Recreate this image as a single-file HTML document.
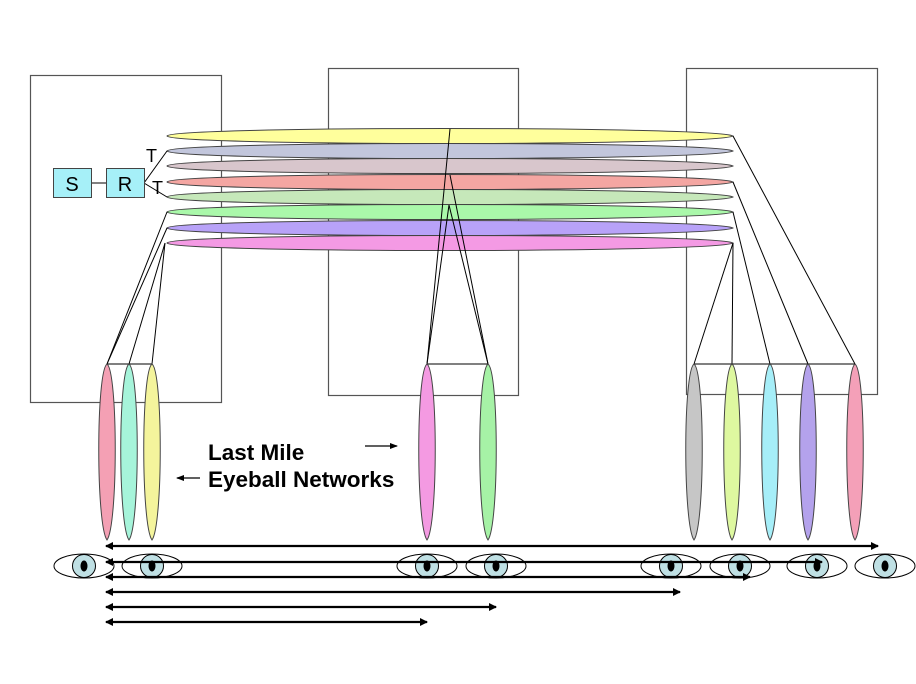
<!DOCTYPE html>
<html><head><meta charset="utf-8"><style>body{margin:0;background:#fff}svg{display:block}</style></head><body>
<svg width="916" height="684" viewBox="0 0 916 684" xmlns="http://www.w3.org/2000/svg" font-family="Liberation Sans, sans-serif">
<defs>
<marker id="a" markerWidth="8" markerHeight="8" refX="7" refY="4" orient="auto-start-reverse" markerUnits="userSpaceOnUse"><path d="M0,0 L8,4 L0,8 z" fill="#000"/></marker>
<marker id="s" markerWidth="8" markerHeight="8" refX="7" refY="4" orient="auto-start-reverse" markerUnits="userSpaceOnUse"><path d="M0,1 L8,4 L0,7 z" fill="#000"/></marker>
</defs>
<g fill="none" stroke="#555" stroke-width="1.2">
<rect x="30.5" y="75.5" width="191" height="327"/>
<rect x="328.5" y="68.5" width="190" height="327"/>
<rect x="686.5" y="68.5" width="191" height="326"/>
</g>
<g stroke="#444" stroke-width="1">
<path d="M167,136 C172,126 715,126 733,136 C715,146 172,146 167,136Z" fill="#ffff9c"/>
<path d="M167,151 C172,141 715,141 733,151 C715,161 172,161 167,151Z" fill="#c2c6dc"/>
<path d="M167,166 C172,156 715,156 733,166 C715,176 172,176 167,166Z" fill="#d8c6cc"/>
<path d="M167,182 C172,172 715,172 733,182 C715,192 172,192 167,182Z" fill="#f4a6a2"/>
<path d="M167,197 C172,187 715,187 733,197 C715,207 172,207 167,197Z" fill="#c6e8ba"/>
<path d="M167,212 C172,202 715,202 733,212 C715,222 172,222 167,212Z" fill="#aaf8aa"/>
<path d="M167,228 C172,218 715,218 733,228 C715,238 172,238 167,228Z" fill="#b8a2f8"/>
<path d="M167,243 C172,233 715,233 733,243 C715,253 172,253 167,243Z" fill="#f49ae4"/>
</g>
<g stroke="#000" stroke-width="1" fill="none">
<line x1="91" y1="183" x2="106" y2="183"/>
<path d="M167,151 L144,183 L167,197"/>
<line x1="167" y1="212" x2="107" y2="364"/>
<line x1="167" y1="228" x2="107" y2="364"/>
<line x1="165" y1="243" x2="129" y2="364"/>
<line x1="165" y1="243" x2="152" y2="364"/>
<line x1="107" y1="364" x2="152" y2="364"/>
<line x1="450" y1="129" x2="427" y2="364"/>
<line x1="450" y1="175" x2="488" y2="364"/>
<line x1="449" y1="205" x2="427" y2="364"/>
<line x1="449" y1="205" x2="488" y2="364"/>
<line x1="427" y1="364" x2="488" y2="364"/>
<line x1="733" y1="136" x2="855" y2="364"/>
<line x1="733" y1="182" x2="808" y2="364"/>
<line x1="733" y1="212" x2="770" y2="364"/>
<line x1="733" y1="243" x2="732" y2="364"/>
<line x1="733" y1="243" x2="694" y2="364"/>
<line x1="694" y1="364" x2="855" y2="364"/>
</g>
<rect x="53.5" y="168.5" width="38" height="29" fill="#a6f0f8" stroke="#444"/>
<rect x="106.5" y="168.5" width="38" height="29" fill="#a6f0f8" stroke="#444"/>
<text x="72" y="191" font-size="20" text-anchor="middle">S</text>
<text x="125" y="191" font-size="20" text-anchor="middle">R</text>
<text x="146" y="162" font-size="18">T</text>
<text x="152" y="194" font-size="18">T</text>
<g stroke="#444" stroke-width="1">
<path d="M107,364 C96,372 96,525 107,540 C118,525 118,372 107,364Z" fill="#f4a0b4"/>
<path d="M129,364 C118,372 118,525 129,540 C140,525 140,372 129,364Z" fill="#a6f4da"/>
<path d="M152,364 C141,372 141,525 152,540 C163,525 163,372 152,364Z" fill="#f4f49c"/>
<path d="M427,364 C416,372 416,525 427,540 C438,525 438,372 427,364Z" fill="#f49ae2"/>
<path d="M488,364 C477,372 477,525 488,540 C499,525 499,372 488,364Z" fill="#a6f2a6"/>
<path d="M694,364 C683,372 683,525 694,540 C705,525 705,372 694,364Z" fill="#c6c6c6"/>
<path d="M732,364 C721,372 721,525 732,540 C743,525 743,372 732,364Z" fill="#def8a0"/>
<path d="M770,364 C759,372 759,525 770,540 C781,525 781,372 770,364Z" fill="#a6eef8"/>
<path d="M808,364 C797,372 797,525 808,540 C819,525 819,372 808,364Z" fill="#b4a2ec"/>
<path d="M855,364 C844,372 844,525 855,540 C866,525 866,372 855,364Z" fill="#f4a0b8"/>
</g>
<text x="208" y="460" font-size="22.5" font-weight="bold">Last Mile</text>
<text x="208" y="487" font-size="22.5" font-weight="bold">Eyeball Networks</text>
<line x1="365" y1="446" x2="397" y2="446" stroke="#000" stroke-width="1.2" marker-end="url(#s)"/>
<line x1="200" y1="478" x2="177" y2="478" stroke="#000" stroke-width="1.2" marker-end="url(#s)"/>
<g stroke="#000" stroke-width="1">
<g id="e"><ellipse cx="84" cy="566" rx="30" ry="12" fill="#fff"/><circle cx="84" cy="566" r="11.5" fill="#bfe0e4"/><ellipse cx="84" cy="566" rx="3" ry="5" fill="#000"/></g>
<use href="#e" x="68"/><use href="#e" x="343"/><use href="#e" x="412"/><use href="#e" x="587"/><use href="#e" x="656"/><use href="#e" x="733"/><use href="#e" x="801"/>
</g>
<g stroke="#000" stroke-width="2.2" marker-start="url(#a)" marker-end="url(#a)">
<line x1="106" y1="546" x2="878" y2="546"/>
<line x1="106" y1="562" x2="822" y2="562"/>
<line x1="106" y1="577" x2="750" y2="577"/>
<line x1="106" y1="592" x2="680" y2="592"/>
<line x1="106" y1="607" x2="496" y2="607"/>
<line x1="106" y1="622" x2="427" y2="622"/>
</g>
</svg>
</body></html>
